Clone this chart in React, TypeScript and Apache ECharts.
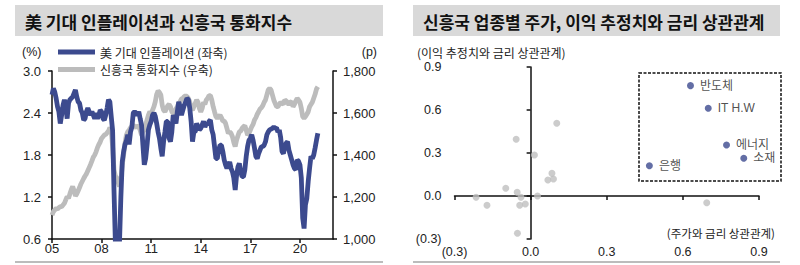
import { useEffect, useRef } from 'react';
import * as echarts from 'echarts';

// ---------- Left chart data (monthly, Jan 2005 – Feb 2021) ----------
const startYear = 2005;
const xTickYears = [2005, 2008, 2011, 2014, 2017, 2020];

// US expected inflation (%), left axis
const breakevenInflation = [
  2.66, 2.75, 2.70, 2.61, 2.49, 2.42, 2.25, 2.37, 2.51, 2.59, 2.49, 2.32, // 2005
  2.54, 2.59, 2.61, 2.63, 2.68, 2.73, 2.63, 2.56, 2.54, 2.44, 2.40, 2.30, // 2006
  2.32, 2.42, 2.47, 2.42, 2.37, 2.42, 2.37, 2.32, 2.40, 2.32, 2.37, 2.44, // 2007
  2.42, 2.32, 2.30, 2.37, 2.47, 2.59, 2.56, 2.35, 2.15, 1.30, 0.55, 0.30, // 2008
  0.35, 0.55, 1.20, 1.70, 1.85, 1.95, 2.00, 2.09, 1.95, 2.13, 2.20, 2.40, // 2009
  2.42, 2.40, 2.37, 2.42, 2.32, 2.23, 1.94, 1.66, 1.75, 1.94, 2.16, 2.23, // 2010
  2.28, 2.37, 2.40, 2.35, 2.25, 2.13, 2.04, 1.90, 1.78, 1.99, 2.13, 2.28, // 2011
  2.28, 2.04, 1.99, 2.13, 2.37, 2.32, 2.25, 2.42, 2.56, 2.49, 2.37, 2.44, // 2012
  2.51, 2.56, 2.61, 2.59, 2.47, 2.28, 1.99, 2.13, 2.13, 2.25, 2.20, 2.16, // 2013
  2.18, 2.23, 2.28, 2.20, 2.25, 2.23, 2.28, 2.30, 2.16, 2.09, 1.92, 1.75, // 2014
  1.75, 1.87, 1.94, 1.94, 1.85, 1.73, 1.66, 1.61, 1.66, 1.70, 1.61, 1.56, // 2015
  1.47, 1.30, 1.51, 1.63, 1.68, 1.56, 1.49, 1.49, 1.59, 1.78, 1.92, 2.01, // 2016
  2.04, 2.09, 2.01, 1.90, 1.78, 1.75, 1.82, 1.87, 1.92, 1.92, 1.94, 1.99, // 2017
  2.09, 2.13, 2.16, 2.17, 2.18, 2.20, 2.18, 2.19, 2.13, 2.16, 2.05, 1.85, // 2018
  1.82, 1.92, 1.97, 1.99, 1.87, 1.80, 1.73, 1.66, 1.61, 1.59, 1.73, 1.71, // 2019
  1.66, 1.47, 0.90, 0.75, 1.09, 1.18, 1.42, 1.61, 1.78, 1.75, 1.80, 1.90, // 2020
  2.01, 2.11, // 2021
];

// EM currency index (p), right axis
const emCurrencyIndex = [
  1114, 1130, 1138, 1146, 1143, 1149, 1154, 1154, 1162, 1170, 1186, 1202, // 2005
  1194, 1215, 1235, 1250, 1230, 1205, 1215, 1230, 1245, 1262, 1275, 1288, // 2006
  1300, 1310, 1325, 1340, 1355, 1372, 1390, 1400, 1415, 1435, 1450, 1462, // 2007
  1479, 1487, 1495, 1498, 1506, 1514, 1530, 1519, 1440, 1330, 1300, 1290, // 2008
  1270, 1250, 1280, 1352, 1400, 1456, 1495, 1511, 1519, 1530, 1535, 1543, // 2009
  1535, 1530, 1540, 1535, 1519, 1495, 1511, 1519, 1543, 1567, 1590, 1606, // 2010
  1598, 1614, 1630, 1654, 1689, 1705, 1698, 1686, 1638, 1614, 1606, 1619, // 2011
  1635, 1641, 1630, 1606, 1598, 1606, 1619, 1630, 1646, 1654, 1667, 1670, // 2012
  1678, 1683, 1678, 1670, 1654, 1622, 1614, 1630, 1646, 1662, 1651, 1622, // 2013
  1606, 1622, 1651, 1641, 1662, 1670, 1683, 1683, 1662, 1630, 1606, 1583, // 2014
  1575, 1583, 1590, 1578, 1562, 1562, 1551, 1527, 1503, 1511, 1503, 1487, // 2015
  1460, 1440, 1471, 1492, 1511, 1514, 1527, 1535, 1540, 1519, 1495, 1503, // 2016
  1519, 1535, 1546, 1567, 1578, 1594, 1606, 1619, 1625, 1635, 1651, 1662, // 2017
  1686, 1710, 1717, 1710, 1686, 1662, 1646, 1630, 1630, 1641, 1651, 1646, // 2018
  1641, 1662, 1657, 1651, 1638, 1651, 1654, 1630, 1641, 1657, 1670, 1662, // 2019
  1651, 1622, 1583, 1575, 1583, 1594, 1606, 1630, 1641, 1651, 1670, 1689, // 2020
  1714, 1725, // 2021
];

// ---------- Right chart data ----------
const sectorNames = ['반도체', 'IT H.W', '에너지', '소재', '은행'];
const sectorPriceRateCorr = [0.63, 0.70, 0.772, 0.84, 0.468];
const sectorEpsRateCorr = [0.77, 0.612, 0.356, 0.263, 0.211];

const otherPriceRateCorr = [0.103, -0.057, 0.015, 0.084, 0.068, 0.09, -0.098, -0.053, -0.038, 0.027, -0.215, -0.172, -0.043, -0.021, -0.052, 0.694];
const otherEpsRateCorr = [0.507, 0.396, 0.286, 0.158, 0.112, 0.119, 0.054, 0.026, -0.009, 0.0, -0.009, -0.065, -0.065, -0.056, -0.26, -0.047];

const BLUE = '#3c4a8e';
const GREY = '#bcbcbc';
const FONT = '"Liberation Sans", "Noto Sans CJK KR", sans-serif';
const KFONT = '"Noto Sans CJK KR", "Liberation Sans", sans-serif';
const TXT = '#222';

const fmtCorr = (v: number) => (v < -1e-9 ? `(${Math.abs(v).toFixed(1)})` : Math.abs(v).toFixed(1));

export default function App() {
  const ref = useRef<HTMLDivElement>(null);

  useEffect(() => {
    if (!ref.current) return;
    const chart = echarts.init(ref.current, undefined, { renderer: 'svg' });

    const axisLabelBase = { fontFamily: FONT, fontSize: 12.5, color: TXT };
    const blackLine = { lineStyle: { color: '#111', width: 1.5 } };

    const option: any = {
      animation: false,
      backgroundColor: '#fff',
      title: [
        {
          text: '美 기대 인플레이션과 신흥국 통화지수',
          left: 25, top: 11, padding: 0,
          textStyle: { fontSize: 17, fontWeight: 'bold', fontFamily: KFONT, color: '#111', lineHeight: 20 },
        },
        {
          text: '신흥국 업종별 주가, 이익 추정치와 금리 상관관계',
          left: 423, top: 11, padding: 0,
          textStyle: { fontSize: 17, fontWeight: 'bold', fontFamily: KFONT, color: '#111', lineHeight: 20 },
        },
      ],
      legend: {
        data: ['美 기대 인플레이션 (좌축)', '신흥국 통화지수 (우축)'],
        orient: 'vertical',
        left: 58, top: 45, padding: 0,
        icon: 'rect', itemWidth: 37, itemHeight: 5, itemGap: 3.5,
        selectedMode: false,
        textStyle: { fontSize: 12, fontFamily: KFONT, color: TXT, lineHeight: 14 },
      },
      grid: [
        { left: 52, top: 71, width: 281, height: 168 },
        { left: 454.5, top: 67, width: 304.5, height: 172 },
      ],
      xAxis: [
        {
          type: 'value', gridIndex: 0, min: 2005, max: 2022,
          axisLine: { show: true, onZero: false, ...blackLine },
          axisTick: { show: true, length: 4, customValues: xTickYears, lineStyle: { color: '#111', width: 1.5 } },
          axisLabel: { ...axisLabelBase, fontSize: 13, margin: 3, customValues: xTickYears, formatter: (v: number) => String(v).slice(2) },
          splitLine: { show: false },
        },
        {
          type: 'value', gridIndex: 1, position: 'bottom', min: -0.3, max: 0.9, interval: 0.3,
          axisLine: { show: false, onZero: false },
          axisTick: { show: false },
          axisLabel: { ...axisLabelBase, margin: 7, formatter: fmtCorr },
          splitLine: { show: false },
        },
        {
          type: 'value', gridIndex: 1, position: 'bottom', min: -0.3, max: 0.9, interval: 0.3,
          axisLine: { show: true, onZero: true, ...blackLine },
          axisTick: { show: true, length: 4, lineStyle: { color: '#111', width: 1.5 } },
          axisLabel: { show: false },
          splitLine: { show: false },
        },
      ],
      yAxis: [
        {
          type: 'value', gridIndex: 0, position: 'left', min: 0.6, max: 3.0, interval: 0.6,
          axisLine: { show: true, ...blackLine },
          axisTick: { show: true, length: 4, lineStyle: { color: '#111', width: 1.5 } },
          axisLabel: { ...axisLabelBase, fontSize: 13, margin: 11, formatter: (v: number) => v.toFixed(1) },
          splitLine: { show: false },
        },
        {
          type: 'value', gridIndex: 0, position: 'right', min: 1000, max: 1800, interval: 200,
          axisLine: { show: true, ...blackLine },
          axisTick: { show: true, length: 4, lineStyle: { color: '#111', width: 1.5 } },
          axisLabel: { ...axisLabelBase, fontSize: 13, margin: 10, formatter: (v: number) => v.toLocaleString('en-US') },
          splitLine: { show: false },
        },
        {
          type: 'value', gridIndex: 1, position: 'left', min: -0.3, max: 0.9, interval: 0.3,
          axisLine: { show: false, onZero: false },
          axisTick: { show: false },
          axisLabel: { ...axisLabelBase, margin: 13, formatter: fmtCorr },
          splitLine: { show: false },
        },
        {
          type: 'value', gridIndex: 1, position: 'left', min: -0.3, max: 0.9, interval: 0.3,
          axisLine: { show: true, onZero: true, ...blackLine },
          axisTick: { show: true, length: 4, lineStyle: { color: '#111', width: 1.5 } },
          axisLabel: { show: false },
          splitLine: { show: false },
        },
      ],
      series: [
        {
          name: '신흥국 통화지수 (우축)', type: 'line', xAxisIndex: 0, yAxisIndex: 1, z: 2,
          data: emCurrencyIndex.map((v, i) => [startYear + i / 12, v]),
          symbol: 'none', lineStyle: { width: 4.8, color: GREY }, itemStyle: { color: GREY },
        },
        {
          name: '美 기대 인플레이션 (좌축)', type: 'line', xAxisIndex: 0, yAxisIndex: 0, z: 3,
          data: breakevenInflation.map((v, i) => [startYear + i / 12, v]),
          symbol: 'none', lineStyle: { width: 4.8, color: BLUE }, itemStyle: { color: BLUE },
        },
        {
          name: 'others', type: 'scatter', xAxisIndex: 1, yAxisIndex: 2,
          data: otherPriceRateCorr.map((x, i) => [x, otherEpsRateCorr[i]]),
          symbolSize: 7, itemStyle: { color: '#bfbfbf' },
        },
        {
          name: 'sectors', type: 'scatter', xAxisIndex: 1, yAxisIndex: 2,
          data: sectorNames.map((n, i) => ({ name: n, value: [sectorPriceRateCorr[i], sectorEpsRateCorr[i]] })),
          symbolSize: 7, itemStyle: { color: BLUE },
          label: { show: true, position: 'right', distance: 6, formatter: '{b}', fontSize: 12, fontFamily: FONT, color: TXT },
        },
      ],
      graphic: [
        { type: 'rect', z: -10, shape: { x: 15, y: 5, width: 368, height: 31 }, style: { fill: '#d9d9d9' } },
        { type: 'rect', z: -10, shape: { x: 413, y: 5, width: 367, height: 31 }, style: { fill: '#d9d9d9' } },
        { type: 'line', shape: { x1: 15, y1: 262, x2: 383, y2: 262 }, style: { stroke: '#a6a6a6', lineWidth: 1.5 } },
        { type: 'line', shape: { x1: 413, y1: 262, x2: 780, y2: 262 }, style: { stroke: '#a6a6a6', lineWidth: 1.5 } },
        { type: 'rect', shape: { x: 639, y: 73, width: 142, height: 108 }, style: { fill: 'none', stroke: '#111', lineWidth: 1.5, lineDash: [3, 1.5] } },
        { type: 'text', x: 22, y: 52, style: { text: '(%)', fontSize: 12.5, fontFamily: FONT, fill: TXT, align: 'left', verticalAlign: 'middle' } },
        { type: 'text', x: 377, y: 52, style: { text: '(p)', fontSize: 12.5, fontFamily: FONT, fill: TXT, align: 'right', verticalAlign: 'middle' } },
        { type: 'text', x: 417, y: 52, style: { text: '(이익 추정치와 금리 상관관계)', fontSize: 12, fontFamily: KFONT, fill: TXT, align: 'left', verticalAlign: 'middle' } },
        { type: 'text', x: 775, y: 233, style: { text: '(주가와 금리 상관관계)', fontSize: 11.5, fontFamily: KFONT, fill: TXT, align: 'right', verticalAlign: 'middle' } },
      ],
    };

    chart.setOption(option);
    return () => chart.dispose();
  }, []);

  return <div ref={ref} style={{ position: 'absolute', left: 0, top: 0, width: 800, height: 265 }} />;
}
